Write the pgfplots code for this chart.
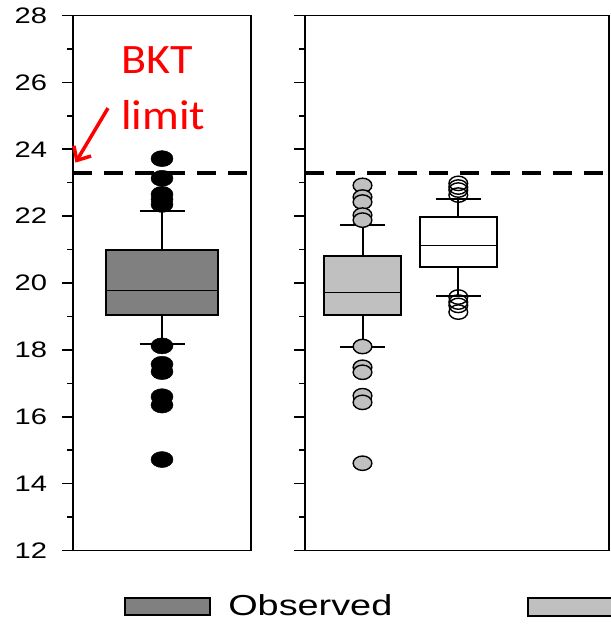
\documentclass[border=0pt]{standalone}
\usepackage{pgfplots}
\pgfplotsset{compat=1.18}
\usepgfplotslibrary{statistics}
\usetikzlibrary{arrows.meta}
\usepackage{fontspec}
\setmainfont{Liberation Sans}
\newfontfamily\calib{Carlito}

\definecolor{darkbox}{RGB}{128,128,128}
\definecolor{lightbox}{RGB}{192,192,192}

\pgfplotsset{
  panel/.style={
    scale only axis,
    anchor=south west,
    height=535bp,
    ymin=12, ymax=28,
    ytick={12,14,...,28},
    minor y tick num=1,
    xtick=\empty,
    ytick pos=left,
    tick align=outside,
    major tick length=11bp,
    minor tick length=6bp,
    axis line style={line width=1.8bp},
    every tick/.style={line width=1.6bp, black},
    every minor tick/.style={line width=1.6bp, black},
    clip=false,
    /pgf/number format/assume math mode=true,
    yticklabel style={font=\fontsize{22.5}{24}\selectfont, xscale=1.3, anchor=east},
    boxplot/draw direction=y,
  },
  boxstyle/.style={line width=2bp,
    boxplot/every median/.style={line width=1.2bp}},
  bkt/.style={black, line width=3.2bp, dash pattern=on 19bp off 12bp, forget plot},
}

\begin{document}
\begin{tikzpicture}
\useasboundingbox (0,0) rectangle (611bp,627bp);

% ---------- left panel: observed ----------
\begin{axis}[panel, at={(73bp,76.5bp)}, width=177.7bp, xmin=0, xmax=177.7,
  yticklabel style={xshift=-8bp}]
  \addplot[bkt] coordinates {(0,23.29) (177.7,23.29)};
  \addplot[boxstyle, draw=black, fill=darkbox, mark=*,
    mark options={fill=black, draw=black, xscale=1.375, line width=0.5bp},
    mark size=8bp,
    boxplot prepared={draw position=89, lower whisker=18.19, lower quartile=19.04,
      median=19.77, upper quartile=21.0, upper whisker=22.16,
      box extend=112, whisker extend=45}]
    coordinates {(0,23.72) (0,23.13) (0,22.65) (0,22.5) (0,22.35)
                 (0,18.12) (0,17.57) (0,17.35) (0,16.6) (0,16.35) (0,14.72)};
  \draw[red, line width=3.5bp, -{Straight Barb[length=11bp,width=20bp]}]
    (axis cs:35,25.23) -- (axis cs:2.5,23.6);
\end{axis}

% ---------- right panel ----------
\begin{axis}[panel, at={(305bp,76.5bp)}, width=304bp, xmin=0, xmax=304,
  yticklabels={}]
  \addplot[bkt] coordinates {(0,23.29) (304,23.29)};
  \addplot[boxstyle, draw=black, fill=lightbox, mark=*,
    mark options={fill=lightbox, draw=black, xscale=1.3, line width=1.4bp},
    mark size=7.2bp,
    boxplot prepared={draw position=57.5, lower whisker=18.09, lower quartile=19.04,
      median=19.72, upper quartile=20.81, upper whisker=21.72,
      box extend=77, whisker extend=45.5}]
    coordinates {(0,22.92) (0,22.57) (0,22.42) (0,22.03) (0,21.88)
                 (0,18.1) (0,17.48) (0,17.33) (0,16.63) (0,16.43) (0,14.61)};
  \addplot[boxstyle, draw=black, fill=white, mark=o,
    mark options={draw=black, xscale=1.3, line width=1.4bp},
    mark size=7.2bp,
    boxplot prepared={draw position=153.3, lower whisker=19.6, lower quartile=20.49,
      median=21.13, upper quartile=21.98, upper whisker=22.51,
      box extend=77, whisker extend=45}]
    coordinates {(0,22.98) (0,22.87) (0,22.78) (0,22.63)
                 (0,19.58) (0,19.43) (0,19.33) (0,19.13)};
\end{axis}

% annotation text
\node[anchor=base west, text=red, inner sep=0pt, xscale=1.1,
  font=\calib\fontsize{42}{44}\selectfont] at (121bp,553.7bp) {BKT};
\node[anchor=base west, text=red, inner sep=0pt, xscale=1.1,
  font=\calib\fontsize{42}{44}\selectfont] at (121bp,497bp) {limit};

% legend
\draw[line width=2bp, fill=darkbox] (125bp,12bp) rectangle (210bp,29bp);
\node[anchor=base west, inner sep=0pt, xscale=1.31,
  font=\fontsize{29}{31}\selectfont] at (228bp,11.5bp) {Observed};
\begin{scope}
  \clip (0,0) rectangle (611bp,627bp);
  \draw[line width=2bp, fill=lightbox] (528bp,11bp) rectangle (660bp,29bp);
\end{scope}
\end{tikzpicture}
\end{document}
